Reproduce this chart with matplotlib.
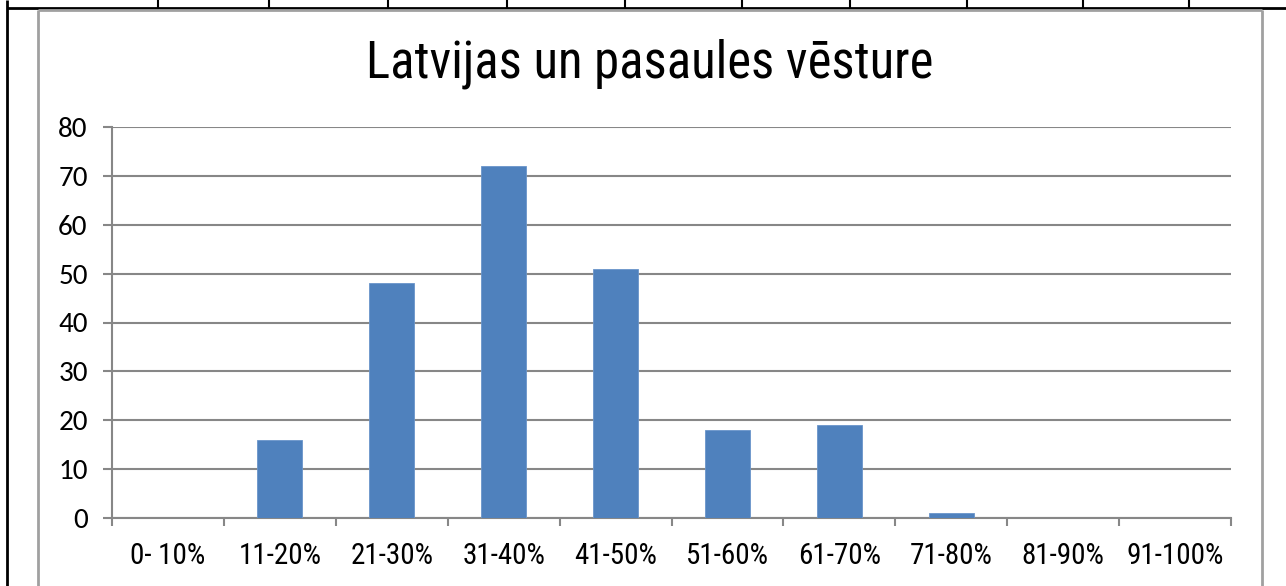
import matplotlib
matplotlib.use("Agg")
import matplotlib.pyplot as plt
from matplotlib.lines import Line2D
from matplotlib import font_manager as fm

categories = ["0- 10%", "11-20%", "21-30%", "31-40%", "41-50%",
              "51-60%", "61-70%", "71-80%", "81-90%", "91-100%"]
values = [0, 16, 48, 72, 51, 18, 19, 1, 0, 0]
title = "Latvijas un pasaules vēsture"
yticks = [0, 10, 20, 30, 40, 50, 60, 70, 80]

names = {f.name for f in fm.fontManager.ttflist}

def pick(options):
    for o in options:
        if o in names:
            return o
    return "DejaVu Sans"

narrow = pick(["Liberation Sans Narrow", "Arial Narrow", "Roboto Condensed",
               "PT Sans Narrow", "Archivo Narrow", "Open Sans Condensed", "Roboto"])
calib = pick(["Carlito", "Calibri", narrow])
plt.rcParams['font.family'] = [narrow, 'DejaVu Sans']

W, H = 1286, 586
fig = plt.figure(figsize=(W / 100, H / 100), dpi=100)

def fx(x):
    return x / W

def fy(y):
    return 1 - y / H

# axes placement
L, R, T, B = 112, 1231, 127, 518
ax = fig.add_axes([fx(L), fy(B), fx(R) - fx(L), fy(T) - fy(B)])

grid_c = "#878787"
x = list(range(len(categories)))
ax.bar(x, values, width=0.4, color="#4F81BD", edgecolor="#6A95CA", linewidth=0.6, zorder=3)
ax.set_xlim(-0.5, len(categories) - 0.5)
ax.set_ylim(0, 80)
ax.set_yticks(yticks)
ax.set_yticklabels([str(v) for v in yticks], fontsize=21, family=[calib, 'DejaVu Sans'])
ax.yaxis.grid(True, color=grid_c, linewidth=1.5, zorder=0)
ax.set_axisbelow(True)

# x ticks at category boundaries, labels at centers
ax.set_xticks([i - 0.5 for i in range(len(categories) + 1)])
ax.set_xticklabels([])
ax.set_xticks(x, minor=True)
ax.set_xticklabels(categories, minor=True, fontsize=21)
ax.tick_params(axis='x', which='major', length=6, width=1.5, color=grid_c, direction='out')
ax.tick_params(axis='x', which='minor', length=0, pad=17)
ax.tick_params(axis='y', length=6.5, width=1.5, color=grid_c, pad=11)

for s in ["top", "right"]:
    ax.spines[s].set_visible(False)
for s in ["left", "bottom"]:
    ax.spines[s].set_color(grid_c)
    ax.spines[s].set_linewidth(1.5)

# title
fig.text(fx(650), fy(64), title, ha="center", va="center", fontsize=36.5)

# outer document table lines (black)
def line(x0, y0, x1, y1, c, lw):
    fig.add_artist(Line2D([fx(x0), fx(x1)], [fy(y0), fy(y1)], color=c, linewidth=lw,
                          transform=fig.transFigure, solid_capstyle="butt"))

line(7, 0, 7, H, "black", 2)
line(7, 7.5, W, 7.5, "black", 2)
for xv in [158, 269, 388, 507, 625, 742, 850, 967, 1083, 1189]:
    line(xv, 0, xv, 7.5, "black", 1.5)

# chart frame (gray)
fc = "#A0A0A0"
line(38, 10, 38, H, fc, 2)
line(38, 10, 1262, 10, fc, 2)
line(1262, 10, 1262, H, fc, 2)

fig.savefig("out.png", dpi=100)
